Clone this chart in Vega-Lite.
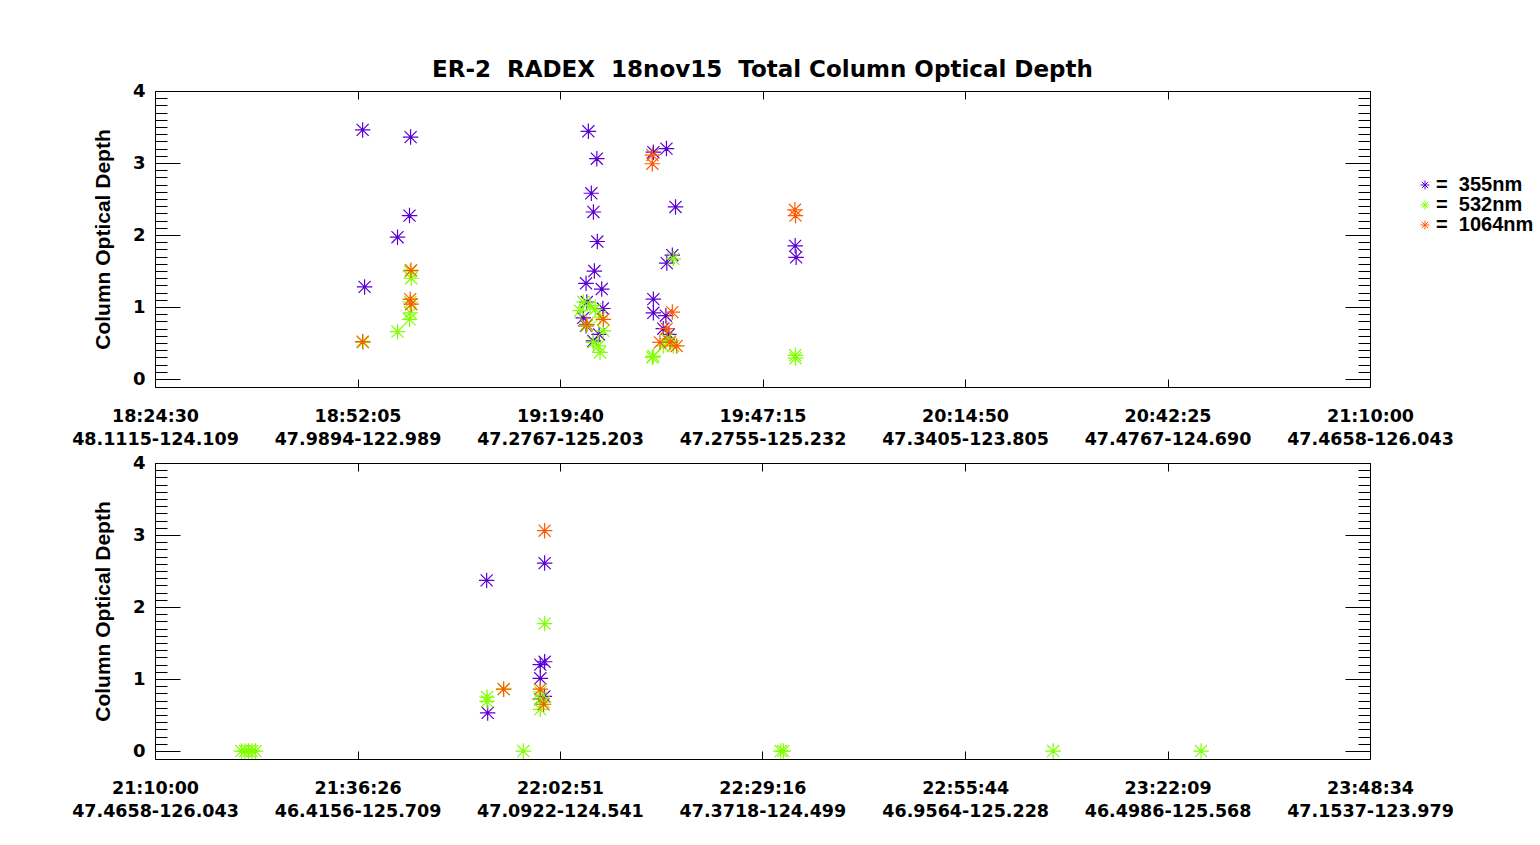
{
  "$schema": "https://vega.github.io/schema/vega-lite/v6.json",
  "background": "white",
  "autosize": {"type": "pad"},
  "padding": {"left": 71, "top": 58, "right": 0, "bottom": 0},
  "title": {
    "text": "ER-2\u00a0 RADEX\u00a0 18nov15\u00a0 Total Column Optical Depth",
    "anchor": "start", "frame": "group", "dx": 277, "offset": 0,
    "font": "DejaVu Sans", "fontSize": 23, "fontWeight": "bold", "color": "black"
  },
  "config": {
    "view": {"stroke": "black", "strokeWidth": 1},
    "axis": {"grid": false, "domain": false, "tickColor": "black", "tickWidth": 1, "labelColor": "black", "titleColor": "black"}
  },
  "datasets": {
    "top": [
      {"t": 67967, "cod": 3.46, "wl": "355nm"}, {"t": 68359, "cod": 3.36, "wl": "355nm"},
      {"t": 68350, "cod": 2.27, "wl": "355nm"}, {"t": 68252, "cod": 1.97, "wl": "355nm"},
      {"t": 67983, "cod": 1.28, "wl": "355nm"}, {"t": 69812, "cod": 3.44, "wl": "355nm"},
      {"t": 69881, "cod": 3.06, "wl": "355nm"}, {"t": 69836, "cod": 2.58, "wl": "355nm"},
      {"t": 69853, "cod": 2.32, "wl": "355nm"}, {"t": 69885, "cod": 1.91, "wl": "355nm"},
      {"t": 69861, "cod": 1.50, "wl": "355nm"}, {"t": 69793, "cod": 1.33, "wl": "355nm"},
      {"t": 69921, "cod": 1.25, "wl": "355nm"}, {"t": 69930, "cod": 0.98, "wl": "355nm"},
      {"t": 69799, "cod": 1.07, "wl": "355nm"}, {"t": 69793, "cod": 0.74, "wl": "355nm"},
      {"t": 69853, "cod": 0.53, "wl": "355nm"}, {"t": 69770, "cod": 0.85, "wl": "355nm"},
      {"t": 69900, "cod": 0.62, "wl": "355nm"}, {"t": 70343, "cod": 3.15, "wl": "355nm"},
      {"t": 70450, "cod": 3.20, "wl": "355nm"}, {"t": 70524, "cod": 2.39, "wl": "355nm"},
      {"t": 70498, "cod": 1.72, "wl": "355nm"}, {"t": 70453, "cod": 1.61, "wl": "355nm"},
      {"t": 70343, "cod": 1.11, "wl": "355nm"}, {"t": 70343, "cod": 0.92, "wl": "355nm"},
      {"t": 70445, "cod": 0.88, "wl": "355nm"}, {"t": 70424, "cod": 0.70, "wl": "355nm"},
      {"t": 70470, "cod": 0.62, "wl": "355nm"}, {"t": 71502, "cod": 1.85, "wl": "355nm"},
      {"t": 71510, "cod": 1.69, "wl": "355nm"},
      {"t": 67970, "cod": 0.51, "wl": "532nm"}, {"t": 68252, "cod": 0.66, "wl": "532nm"},
      {"t": 68356, "cod": 1.49, "wl": "532nm"}, {"t": 68364, "cod": 1.40, "wl": "532nm"},
      {"t": 68356, "cod": 1.07, "wl": "532nm"}, {"t": 68356, "cod": 0.92, "wl": "532nm"},
      {"t": 68350, "cod": 0.83, "wl": "532nm"}, {"t": 69826, "cod": 1.02, "wl": "532nm"},
      {"t": 69771, "cod": 1.07, "wl": "532nm"}, {"t": 69799, "cod": 0.74, "wl": "532nm"},
      {"t": 69934, "cod": 0.67, "wl": "532nm"}, {"t": 69894, "cod": 0.46, "wl": "532nm"},
      {"t": 69907, "cod": 0.37, "wl": "532nm"}, {"t": 69853, "cod": 0.51, "wl": "532nm"},
      {"t": 69867, "cod": 0.97, "wl": "532nm"}, {"t": 69907, "cod": 0.86, "wl": "532nm"},
      {"t": 69744, "cod": 0.95, "wl": "532nm"}, {"t": 70343, "cod": 0.32, "wl": "532nm"},
      {"t": 70335, "cod": 0.30, "wl": "532nm"}, {"t": 70452, "cod": 0.56, "wl": "532nm"},
      {"t": 70506, "cod": 0.46, "wl": "532nm"}, {"t": 70424, "cod": 0.46, "wl": "532nm"},
      {"t": 70479, "cod": 0.53, "wl": "532nm"}, {"t": 70506, "cod": 1.67, "wl": "532nm"},
      {"t": 71505, "cod": 0.29, "wl": "532nm"}, {"t": 71503, "cod": 0.33, "wl": "532nm"},
      {"t": 67967, "cod": 0.52, "wl": "1064nm"}, {"t": 68362, "cod": 1.51, "wl": "1064nm"},
      {"t": 68356, "cod": 1.11, "wl": "1064nm"}, {"t": 68364, "cod": 1.04, "wl": "1064nm"},
      {"t": 69934, "cod": 0.83, "wl": "1064nm"}, {"t": 69799, "cod": 0.76, "wl": "1064nm"},
      {"t": 70335, "cod": 3.11, "wl": "1064nm"}, {"t": 70335, "cod": 2.99, "wl": "1064nm"},
      {"t": 70498, "cod": 0.93, "wl": "1064nm"}, {"t": 70452, "cod": 0.70, "wl": "1064nm"},
      {"t": 70397, "cod": 0.51, "wl": "1064nm"}, {"t": 70534, "cod": 0.46, "wl": "1064nm"},
      {"t": 70479, "cod": 0.51, "wl": "1064nm"}, {"t": 71500, "cod": 2.35, "wl": "1064nm"},
      {"t": 71505, "cod": 2.27, "wl": "1064nm"}
    ],
    "bottom": [
      {"t": 79251, "cod": 2.61, "wl": "355nm"}, {"t": 78797, "cod": 2.37, "wl": "355nm"},
      {"t": 79251, "cod": 1.24, "wl": "355nm"}, {"t": 79217, "cod": 1.20, "wl": "355nm"},
      {"t": 79217, "cod": 1.01, "wl": "355nm"}, {"t": 78805, "cod": 0.53, "wl": "355nm"},
      {"t": 79217, "cod": 0.72, "wl": "355nm"}, {"t": 79249, "cod": 0.76, "wl": "355nm"},
      {"t": 79251, "cod": 1.77, "wl": "532nm"}, {"t": 78800, "cod": 0.75, "wl": "532nm"},
      {"t": 78800, "cod": 0.69, "wl": "532nm"}, {"t": 78930, "cod": 0.86, "wl": "532nm"},
      {"t": 79217, "cod": 0.72, "wl": "532nm"}, {"t": 79217, "cod": 0.58, "wl": "532nm"},
      {"t": 79243, "cod": 0.68, "wl": "532nm"}, {"t": 79217, "cod": 0.82, "wl": "532nm"},
      {"t": 76877, "cod": 0, "wl": "532nm"}, {"t": 76905, "cod": 0, "wl": "532nm"},
      {"t": 76932, "cod": 0, "wl": "532nm"}, {"t": 76960, "cod": 0, "wl": "532nm"},
      {"t": 76987, "cod": 0, "wl": "532nm"}, {"t": 79084, "cod": 0, "wl": "532nm"},
      {"t": 81100, "cod": 0, "wl": "532nm"}, {"t": 81120, "cod": 0, "wl": "532nm"},
      {"t": 83233, "cod": 0, "wl": "532nm"}, {"t": 84391, "cod": 0, "wl": "532nm"},
      {"t": 79251, "cod": 3.06, "wl": "1064nm"}, {"t": 78930, "cod": 0.86, "wl": "1064nm"},
      {"t": 79217, "cod": 0.86, "wl": "1064nm"}, {"t": 79243, "cod": 0.65, "wl": "1064nm"}
    ]
  },
  "vconcat": [
    {
      "width": 1215, "height": 296,
      "data": {"name": "top"},
      "resolve": {"axis": {"x": "independent", "y": "independent"}},
      "layer": [
        {
          "mark": {"type": "point", "shape": "M-1,0L1,0M0,-1L0,1M-0.78,-0.78L0.78,0.78M-0.78,0.78L0.78,-0.78M-0.1,0A0.1,0.1 0 1,1 0.1,0A0.1,0.1 0 1,1 -0.1,0", "filled": false, "size": 240, "strokeWidth": 1.2, "opacity": 1},
          "encoding": {
            "x": {"field": "t", "type": "quantitative",
              "scale": {"domain": [66270, 76200], "nice": false, "zero": false},
              "axis": {"orient": "bottom", "values": [66270, 67925, 69580, 71235, 72890, 74545, 76200],
                "labelExpr": "{'66270':['18:24:30','48.1115-124.109'],'67925':['18:52:05','47.9894-122.989'],'69580':['19:19:40','47.2767-125.203'],'71235':['19:47:15','47.2755-125.232'],'72890':['20:14:50','47.3405-123.805'],'74545':['20:42:25','47.4767-124.690'],'76200':['21:10:00','47.4658-126.043']}[''+datum.value]",
                "tickSize": -8, "labelPadding": 28, "labelFont": "DejaVu Sans", "labelFontWeight": "bold", "labelFontSize": 17.5, "labelLineHeight": 23,
                "labelOverlap": false, "labelBound": false, "labelFlush": false, "title": null}},
            "y": {"field": "cod", "type": "quantitative",
              "scale": {"domain": [-0.11, 4], "nice": false, "zero": false},
              "axis": {"orient": "left", "values": [0, 1, 2, 3, 4], "tickSize": -25, "labelPadding": 35,
                "labelFont": "DejaVu Sans", "labelFontWeight": "bold", "labelFontSize": 18,
                "title": "Column Optical Depth", "titleFont": "Liberation Sans", "titleFontSize": 21, "titleFontWeight": "bold", "titlePadding": 19}},
            "color": {"field": "wl", "type": "nominal",
              "scale": {"domain": ["355nm", "532nm", "1064nm"], "range": ["#5a00d6", "#80ff00", "#ff5a00"]},
              "legend": {"title": null, "orient": "none", "legendX": 1260, "legendY": 84, "direction": "vertical", "padding": 0,
                "symbolType": "M-1,0L1,0M0,-1L0,1M-0.7,-0.7L0.7,0.7M-0.7,0.7L0.7,-0.7", "symbolSize": 80, "symbolStrokeWidth": 1,
                "labelFont": "Liberation Sans", "labelFontWeight": "bold", "labelFontSize": 20, "labelColor": "black", "labelOffset": 1,
                "rowPadding": 0, "labelLimit": 1000, "labelExpr": "'=\u00a0\u00a0' + datum.label"}}
          }
        },
        {
          "mark": {"type": "point", "opacity": 0},
          "encoding": {
            "x": {"field": "t", "type": "quantitative", "axis": {"orient": "top", "values": [66270, 67925, 69580, 71235, 72890, 74545, 76200], "labels": false, "tickSize": -8, "title": null}},
            "y": {"field": "cod", "type": "quantitative", "axis": {"orient": "left", "values": [0, 0.1, 0.2, 0.3, 0.4, 0.5, 0.6, 0.7, 0.8, 0.9, 1, 1.1, 1.2, 1.3, 1.4, 1.5, 1.6, 1.7, 1.8, 1.9, 2, 2.1, 2.2, 2.3, 2.4, 2.5, 2.6, 2.7, 2.8, 2.9, 3, 3.1, 3.2, 3.3, 3.4, 3.5, 3.6, 3.7, 3.8, 3.9, 4], "labels": false, "tickSize": -12, "title": null}}
          }
        },
        {
          "mark": {"type": "point", "opacity": 0},
          "encoding": {
            "x": {"field": "t", "type": "quantitative", "axis": null},
            "y": {"field": "cod", "type": "quantitative", "axis": {"orient": "right", "values": [0, 1, 2, 3, 4], "labels": false, "tickSize": -25, "title": null}}
          }
        },
        {
          "mark": {"type": "point", "opacity": 0},
          "encoding": {
            "x": {"field": "t", "type": "quantitative", "axis": null},
            "y": {"field": "cod", "type": "quantitative", "axis": {"orient": "right", "values": [0, 0.1, 0.2, 0.3, 0.4, 0.5, 0.6, 0.7, 0.8, 0.9, 1, 1.1, 1.2, 1.3, 1.4, 1.5, 1.6, 1.7, 1.8, 1.9, 2, 2.1, 2.2, 2.3, 2.4, 2.5, 2.6, 2.7, 2.8, 2.9, 3, 3.1, 3.2, 3.3, 3.4, 3.5, 3.6, 3.7, 3.8, 3.9, 4], "labels": false, "tickSize": -12, "title": null}}
          }
        }
      ]
    },
    {
      "width": 1215, "height": 296,
      "data": {"name": "bottom"},
      "resolve": {"axis": {"x": "independent", "y": "independent"}},
      "layer": [
        {
          "mark": {"type": "point", "shape": "M-1,0L1,0M0,-1L0,1M-0.78,-0.78L0.78,0.78M-0.78,0.78L0.78,-0.78M-0.1,0A0.1,0.1 0 1,1 0.1,0A0.1,0.1 0 1,1 -0.1,0", "filled": false, "size": 240, "strokeWidth": 1.2, "opacity": 1},
          "encoding": {
            "x": {"field": "t", "type": "quantitative",
              "scale": {"domain": [76200, 85714], "nice": false, "zero": false},
              "axis": {"orient": "bottom", "values": [76200, 77786, 79371, 80956, 82544, 84129, 85714],
                "labelExpr": "{'76200':['21:10:00','47.4658-126.043'],'77786':['21:36:26','46.4156-125.709'],'79371':['22:02:51','47.0922-124.541'],'80956':['22:29:16','47.3718-124.499'],'82544':['22:55:44','46.9564-125.228'],'84129':['23:22:09','46.4986-125.568'],'85714':['23:48:34','47.1537-123.979']}[''+datum.value]",
                "tickSize": -8, "labelPadding": 28, "labelFont": "DejaVu Sans", "labelFontWeight": "bold", "labelFontSize": 17.5, "labelLineHeight": 23,
                "labelOverlap": false, "labelBound": false, "labelFlush": false, "title": null}},
            "y": {"field": "cod", "type": "quantitative",
              "scale": {"domain": [-0.11, 4], "nice": false, "zero": false},
              "axis": {"orient": "left", "values": [0, 1, 2, 3, 4], "tickSize": -25, "labelPadding": 35,
                "labelFont": "DejaVu Sans", "labelFontWeight": "bold", "labelFontSize": 18,
                "title": "Column Optical Depth", "titleFont": "Liberation Sans", "titleFontSize": 21, "titleFontWeight": "bold", "titlePadding": 19}},
            "color": {"field": "wl", "type": "nominal",
              "scale": {"domain": ["355nm", "532nm", "1064nm"], "range": ["#5a00d6", "#80ff00", "#ff5a00"]},
              "legend": {"title": null, "orient": "none", "legendX": 1260, "legendY": 84, "direction": "vertical", "padding": 0,
                "symbolType": "M-1,0L1,0M0,-1L0,1M-0.7,-0.7L0.7,0.7M-0.7,0.7L0.7,-0.7", "symbolSize": 80, "symbolStrokeWidth": 1,
                "labelFont": "Liberation Sans", "labelFontWeight": "bold", "labelFontSize": 20, "labelColor": "black", "labelOffset": 1,
                "rowPadding": 0, "labelLimit": 1000, "labelExpr": "'=\u00a0\u00a0' + datum.label"}}
          }
        },
        {
          "mark": {"type": "point", "opacity": 0},
          "encoding": {
            "x": {"field": "t", "type": "quantitative", "axis": {"orient": "top", "values": [76200, 77786, 79371, 80956, 82544, 84129, 85714], "labels": false, "tickSize": -8, "title": null}},
            "y": {"field": "cod", "type": "quantitative", "axis": {"orient": "left", "values": [0, 0.1, 0.2, 0.3, 0.4, 0.5, 0.6, 0.7, 0.8, 0.9, 1, 1.1, 1.2, 1.3, 1.4, 1.5, 1.6, 1.7, 1.8, 1.9, 2, 2.1, 2.2, 2.3, 2.4, 2.5, 2.6, 2.7, 2.8, 2.9, 3, 3.1, 3.2, 3.3, 3.4, 3.5, 3.6, 3.7, 3.8, 3.9, 4], "labels": false, "tickSize": -12, "title": null}}
          }
        },
        {
          "mark": {"type": "point", "opacity": 0},
          "encoding": {
            "x": {"field": "t", "type": "quantitative", "axis": null},
            "y": {"field": "cod", "type": "quantitative", "axis": {"orient": "right", "values": [0, 1, 2, 3, 4], "labels": false, "tickSize": -25, "title": null}}
          }
        },
        {
          "mark": {"type": "point", "opacity": 0},
          "encoding": {
            "x": {"field": "t", "type": "quantitative", "axis": null},
            "y": {"field": "cod", "type": "quantitative", "axis": {"orient": "right", "values": [0, 0.1, 0.2, 0.3, 0.4, 0.5, 0.6, 0.7, 0.8, 0.9, 1, 1.1, 1.2, 1.3, 1.4, 1.5, 1.6, 1.7, 1.8, 1.9, 2, 2.1, 2.2, 2.3, 2.4, 2.5, 2.6, 2.7, 2.8, 2.9, 3, 3.1, 3.2, 3.3, 3.4, 3.5, 3.6, 3.7, 3.8, 3.9, 4], "labels": false, "tickSize": -12, "title": null}}
          }
        }
      ]
    }
  ],
  "spacing": 76,
  "bounds": "flush"
}
